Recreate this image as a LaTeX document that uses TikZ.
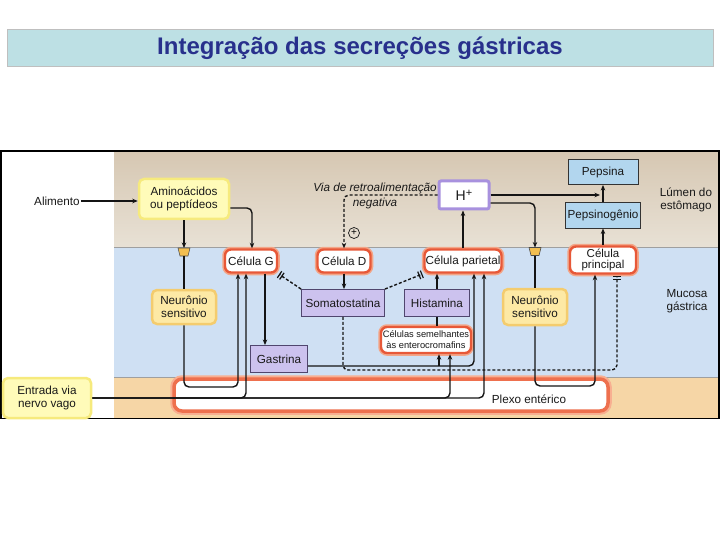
\documentclass[tikz,border=0pt]{standalone}
\usepackage{fontspec}
\setmainfont{Liberation Sans}
\usetikzlibrary{arrows.meta}
\definecolor{txt}{RGB}{25,25,25}
\definecolor{linec}{RGB}{20,20,20}
\definecolor{redc}{RGB}{231,88,56}
\definecolor{redglow}{RGB}{243,165,135}
\definecolor{yelfill}{RGB}{255,251,185}
\definecolor{yeledge}{RGB}{246,234,125}
\definecolor{neufill}{RGB}{253,233,165}
\definecolor{neuedge}{RGB}{244,204,110}
\definecolor{lav}{RGB}{204,194,238}
\definecolor{lavedge}{RGB}{80,70,110}
\definecolor{pbl}{RGB}{178,214,238}
\definecolor{hedge}{RGB}{168,145,222}
\definecolor{trapc}{RGB}{242,190,80}
\definecolor{lumA}{RGB}{214,199,178}
\definecolor{lumB}{RGB}{232,225,213}
\definecolor{muc}{RGB}{207,224,243}
\definecolor{botc}{RGB}{246,214,166}
\definecolor{titlebg}{RGB}{189,224,228}
\definecolor{titlec}{RGB}{40,48,140}
\definecolor{plexc}{RGB}{238,112,78}
\definecolor{plexglow}{RGB}{248,175,145}
\tikzset{
  lbl/.style={font=\fontsize{11.7}{13}\selectfont, text=txt, align=center, inner sep=1pt},
  redbox/.style={lbl, rounded corners=6pt, fill=white, draw=redc, line width=2.4pt,
    preaction={draw=redglow, line width=5.5pt}},
  yelbox/.style={lbl, rounded corners=5pt, fill=yelfill, draw=yeledge, line width=2.5pt},
  neubox/.style={lbl, rounded corners=5pt, fill=neufill, draw=neuedge, line width=2.5pt},
  lavbox/.style={lbl, fill=lav, draw=lavedge, line width=0.9pt},
  bluebox/.style={lbl, fill=pbl, draw=black!80, line width=0.9pt},
  conn/.style={line width=1.4pt, draw=linec, rounded corners=5pt},
  arr/.style={conn, -{Stealth[length=5.5pt,width=4.5pt]}},
  dsh/.style={conn, dash pattern=on 3pt off 2pt},
  darr/.style={dsh, -{Stealth[length=5.5pt,width=4.5pt]}},
  inh/.style={-{Bar[width=8pt,line width=1.2pt,sep=1.6pt]Bar[width=8pt,line width=1.2pt,sep=1pt]}},
  trapnode/.style={rectangle, minimum width=12pt, minimum height=8pt, inner sep=0pt, outer sep=0pt},
  trapfill/.style={fill=trapc, draw=black!70, line width=0.6pt, line join=round}
}
\begin{document}
\begin{tikzpicture}[x=1pt,y=-1pt]
\useasboundingbox (0,0) rectangle (720,540);
% title
\node[draw=gray!50, line width=0.5pt, fill=titlebg, minimum width=706pt, minimum height=37pt, inner sep=0pt] (titlebar) at (360,47.5) {};
\node[text=titlec, font=\fontsize{24}{28}\selectfont\bfseries, inner sep=0pt] (title) at (360,48.5) {Integração das secreções gástricas};
% figure background
\fill[white] (0,150) rectangle (720,419);
\shade[top color=lumA, bottom color=lumB] (114,151) rectangle (718,247);
\fill[muc] (114,247) rectangle (718,377);
\fill[botc] (114,377) rectangle (718,418);
\draw[gray!75, line width=0.6pt] (114,247) -- (718,247);
\draw[gray!75, line width=0.6pt] (114,377) -- (718,377);
\draw[black, line width=1.6pt] (0.8,150.8) rectangle (719.2,418.4);
% plexo
\node[fill=white, draw=plexc, line width=3.5pt, rounded corners=8pt,
  preaction={draw=plexglow, line width=7.5pt},
  minimum width=434pt, minimum height=32pt, inner sep=0pt] (plexo) at (391,395) {};
\node[lbl] (plexolbl) at (529,399) {Plexo entérico};
% nodes
\node[lbl] (alim) at (57,201) {Alimento};
\node[yelbox, minimum width=90pt, minimum height=40pt] (ami) at (184,199) {Aminoácidos\\ou peptídeos};
\node[lbl, font=\fontsize{11.7}{13}\selectfont\itshape] (via1) at (375,188) {Via de retroalimentação};
\node[lbl, font=\fontsize{11.7}{13}\selectfont\itshape] (via2) at (375,203) {negativa};
\node[lbl, fill=white, draw=hedge, line width=3pt, rounded corners=2pt, minimum width=50pt, minimum height=28pt,
  font=\fontsize{14}{16}\selectfont] (hplus) at (464,195) {H\raisebox{4pt}{\fontsize{11}{11}\selectfont +}};
\node[bluebox, minimum width=70pt, minimum height=25pt] (pepsina) at (603,172) {Pepsina};
\node[bluebox, minimum width=75pt, minimum height=26pt] (pepsinog) at (603,215) {Pepsinogênio};
\node[lbl] (lumen) at (686,200) {Lúmen do\\estômago};
\node[trapnode] (trapL) at (184,252) {};
\node[trapnode] (trapR) at (535,251.5) {};
\fill[trapfill] (trapL.north west) -- (trapL.north east) -- ([xshift=-2pt]trapL.south east) -- ([xshift=2pt]trapL.south west) -- cycle;
\fill[trapfill] (trapR.north west) -- (trapR.north east) -- ([xshift=-2pt]trapR.south east) -- ([xshift=2pt]trapR.south west) -- cycle;
\node[redbox, minimum width=52pt, minimum height=23pt] (celG) at (251,261) {Célula G};
\node[redbox, minimum width=53pt, minimum height=23pt] (celD) at (344,261) {Célula D};
\node[redbox, minimum width=77pt, minimum height=23pt] (celP) at (463,261) {Célula parietal};
\node[redbox, minimum width=66pt, minimum height=27pt, inner sep=0.5pt, font=\fontsize{11.5}{11.5}\selectfont] (celPr) at (603,260) {Célula\\principal};
\node[neubox, minimum width=64pt, minimum height=34pt] (neuL) at (184,307) {Neurônio\\sensitivo};
\node[lavbox, minimum width=83pt, minimum height=27pt] (soma) at (343,303) {Somatostatina};
\node[lavbox, minimum width=65pt, minimum height=27pt] (hist) at (437,303) {Histamina};
\node[redbox, minimum width=90pt, minimum height=26pt, inner sep=0pt,
  font=\fontsize{9.3}{11}\selectfont] (ecl) at (426,340) {Células semelhantes\\às enterocromafins};
\node[neubox, minimum width=64pt, minimum height=36pt] (neuR) at (535,307) {Neurônio\\sensitivo};
\node[lbl] (mucosa) at (687,301) {Mucosa\\gástrica};
\node[lavbox, minimum width=57pt, minimum height=27pt] (gast) at (279,359) {Gastrina};
\node[yelbox, minimum width=88pt, minimum height=40pt] (vago) at (47,398) {Entrada via\\nervo vago};
\node[circle, draw=linec, line width=0.7pt, inner sep=0pt, minimum size=11pt,
  font=\fontsize{10}{10}\selectfont] (plus) at (354,233) {+};
% coordinates
\coordinate (lloop) at (238,387);
\coordinate (rloop) at (595,386);
\coordinate (hp) at ([xshift=-3pt]pepsinog.north);
\coordinate (sdc) at (617,370);
\coordinate (cgg) at ([xshift=14pt]celG.south);
\coordinate (gline) at ([yshift=-7pt]gast.east);
\coordinate (eclg) at ([xshift=13pt]ecl.south);
\coordinate (eclv) at ([xshift=24pt]ecl.south);
% connectors
\draw[arr] (alim.east) -- (alim.east -| ami.west);
\draw[arr] (ami.south) -- (trapL.north);
\draw[arr] ([yshift=-9pt]ami.east) -| ([xshift=1pt]celG.north);
\draw[conn] (trapL.south) -- (neuL.north);
\draw[arr] (neuL.south) |- (lloop) -- (lloop |- celG.south);
\draw[arr] (vago.east) -| ([xshift=-5pt]celG.south);
\draw[arr] (vago.east) -| (eclv);
\draw[arr] (vago.east) -| ([xshift=21pt]celP.south);
\draw[arr] ([yshift=-8pt]hplus.east) -| (trapR.north);
\draw[conn] (trapR.south) -- (neuR.north);
\draw[arr] (neuR.south) |- (rloop) -- (rloop |- celPr.south);
\draw[arr] (hplus.east) -- (hplus.east -| hp);
\draw[arr] (pepsinog.north) -- (pepsina.south);
\draw[arr] (celPr.north) -- (pepsinog.south);
\draw[arr] (celP.north) -- (celP.north |- hplus.south);
\draw[darr] (hplus.west) -| (celD.north);
\draw[arr] (celD.south) -- (celD.south |- soma.north);
\draw[dsh, inh] (soma.north west) -- (celG.south east);
\draw[dsh, inh] (soma.north east) -- (celP.south west);
\draw[dsh, inh] (soma.south) |- (sdc) -- (sdc |- celPr.south);
\draw[arr] (hist.north) -- (hist.north |- celP.south);
\draw[conn] (hist.south) -- (hist.south |- ecl.north);
\draw[arr] (cgg) -- (cgg |- gast.north);
\draw[arr] (gline) -| ([xshift=11pt]celP.south);
\draw[arr] (gline -| eclg) -- (eclg);
\end{tikzpicture}
\end{document}
